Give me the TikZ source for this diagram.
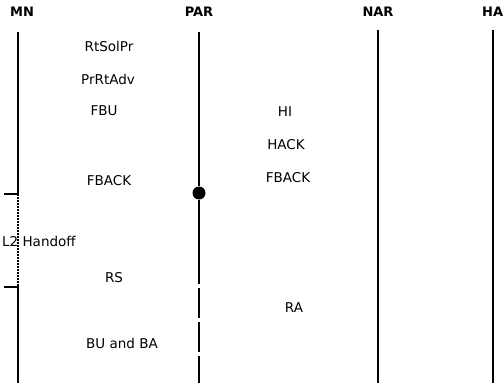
\documentclass[tikz,border=0pt]{standalone}
\usepackage{fontspec}
\setmainfont{DejaVu Sans}
\begin{document}
\begin{tikzpicture}[x=1pt,y=-1pt,
  lbl/.style={font=\fontsize{13.5}{15}\selectfont, inner sep=0pt},
  hdr/.style={font=\bfseries\fontsize{13}{15}\selectfont, inner sep=0pt},
  life/.style={line width=2pt},
  thinlife/.style={line width=1.6pt}]
\useasboundingbox (0,0) rectangle (504,383);
% headers
\node[hdr] (MN) at (22,12) {MN};
\node[hdr] (PAR) at (199,12) {PAR};
\node[hdr] (NAR) at (378,12) {NAR};
\node[hdr,anchor=west] (HA) at (482,12) {HA};
% MN lifeline
\coordinate (mnTop) at (18,32);
\coordinate (mnA) at (18,194);
\coordinate (mnAt) at (4,194);
\coordinate (mnB) at (18,287);
\coordinate (mnBt) at (4,287);
\coordinate (mnBot) at (18,383);
\draw[thinlife] (mnTop) -- (mnA) -- (mnAt);
\draw[thinlife,dash pattern=on 1.6pt off 1.4pt] (mnA) -- (mnB);
\draw[thinlife] (mnBt) -- (mnB) -- (mnBot);
% PAR lifeline
\coordinate (parTop) at (199,32);
\coordinate (parEnd) at (199,284);
\coordinate (parDa) at (199,288);
\coordinate (parBot) at (199,386);
\node[circle,fill,minimum size=13pt,inner sep=0pt] (dot) at (199,193) {};
\draw[life] (parTop) -- (dot) -- (parEnd);
\draw[life,dash pattern=on 30pt off 4pt] (parDa) -- (parBot);
% NAR lifeline
\coordinate (narTop) at (378,30);
\coordinate (narBot) at (378,383);
\draw[line width=2.5pt] (narTop) -- (narBot);
% HA lifeline
\coordinate (haTop) at (493,30);
\coordinate (haBot) at (493,383);
\draw[life] (haTop) -- (haBot);
% labels
\node[lbl] (rtsolpr) at (109,46) {RtSolPr};
\node[lbl] (prrtadv) at (108,79) {PrRtAdv};
\node[lbl] (fbu) at (104,111) {FBU};
\node[lbl] (fback1) at (109,181) {FBACK};
\node[lbl] (hi) at (285,112) {HI};
\node[lbl] (hack) at (286,145) {HACK};
\node[lbl] (fback2) at (288,178) {FBACK};
\node[lbl,anchor=west] (l2) at (2,241) {L2 Handoff};
\node[lbl] (rs) at (114,278) {RS};
\node[lbl] (ra) at (294,308) {RA};
\node[lbl] (buba) at (122,343) {BU and BA};
\end{tikzpicture}
\end{document}
